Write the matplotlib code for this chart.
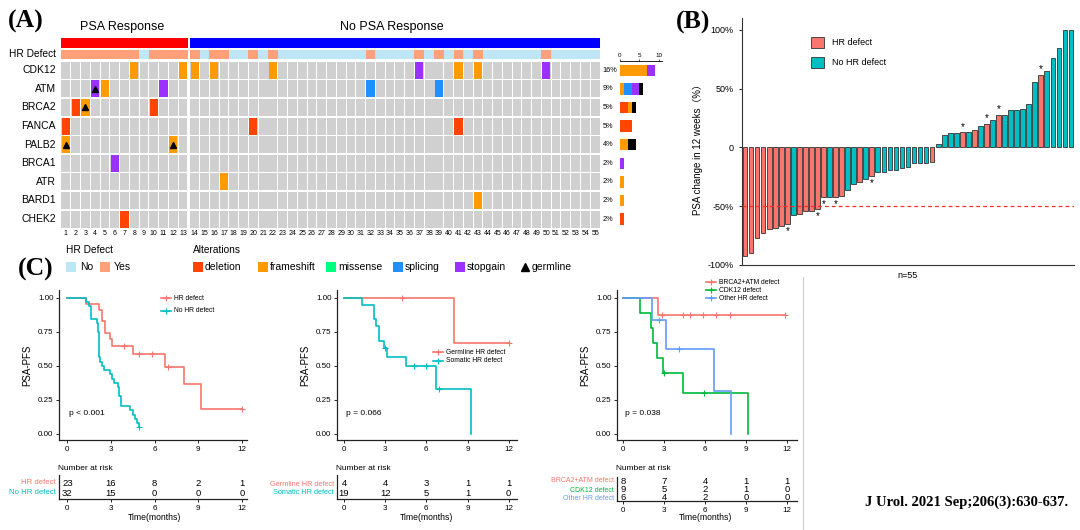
import numpy as np
import matplotlib
matplotlib.use('Agg')
import matplotlib.pyplot as plt
from matplotlib.patches import Rectangle

plt.rcParams['font.family'] = ['Liberation Sans', 'Noto Sans CJK SC']

W, H = 1080, 530

# ---------------- panel A: oncoprint ----------------
genes = ['CDK12', 'ATM', 'BRCA2', 'FANCA', 'PALB2', 'BRCA1', 'ATR', 'BARD1', 'CHEK2']
n_patients = 55
n_response = 13
hr_yes_cols = [1, 2, 3, 4, 5, 6, 7, 8, 10, 11, 12, 13, 14, 16, 17, 20, 22, 32, 37, 39, 41, 43, 50]
alterations = ['deletion', 'frameshift', 'missense', 'splicing', 'stopgain']
alt_colors = {'deletion': '#FF4500', 'frameshift': '#FF9A00', 'missense': '#00FF7F',
              'splicing': '#1E90FF', 'stopgain': '#9B30FF', 'germline': '#000000'}
# (gene, patient, alteration, germline)
mutations = [
    ('CDK12', 8, 'frameshift', 0), ('CDK12', 13, 'frameshift', 0), ('CDK12', 14, 'frameshift', 0),
    ('CDK12', 16, 'frameshift', 0), ('CDK12', 22, 'frameshift', 0), ('CDK12', 37, 'stopgain', 0),
    ('CDK12', 41, 'frameshift', 0), ('CDK12', 43, 'frameshift', 0), ('CDK12', 50, 'stopgain', 0),
    ('ATM', 4, 'stopgain', 1), ('ATM', 5, 'frameshift', 0), ('ATM', 11, 'stopgain', 0),
    ('ATM', 32, 'splicing', 0), ('ATM', 39, 'splicing', 0),
    ('BRCA2', 2, 'deletion', 0), ('BRCA2', 3, 'frameshift', 1), ('BRCA2', 10, 'deletion', 0),
    ('FANCA', 1, 'deletion', 0), ('FANCA', 20, 'deletion', 0), ('FANCA', 41, 'deletion', 0),
    ('PALB2', 1, 'frameshift', 1), ('PALB2', 12, 'frameshift', 1),
    ('BRCA1', 6, 'stopgain', 0),
    ('ATR', 17, 'frameshift', 0),
    ('BARD1', 43, 'frameshift', 0),
    ('CHEK2', 7, 'deletion', 0),
]

# ---------------- panel B: waterfall ----------------
psa_change = [-92, -89.5, -77, -73, -69, -68.5, -67, -65,
              -57.7, -57, -54, -54, -52, -42, -42, -42, -41,
              -36, -31, -29, -27, -24, -21, -21, -19.5, -19, -17.5, -17, -13.5, -13, -13, -12,
              3, 11, 12, 12, 13, 13, 15, 18, 20, 23, 28, 28, 32, 32, 33, 37, 56, 62, 65, 76, 85, 100, 100]
hr_defect_bar = [1, 1, 1, 1, 1, 1, 1, 1, 0, 1, 1, 1, 1, 1, 0, 1, 1, 0, 0, 1, 0, 1,
                 0, 0, 0, 0, 0, 0, 0, 0, 0, 1, 0, 0, 0, 0, 1, 0, 1, 0, 1, 0, 1,
                 0, 0, 0, 0, 0, 0, 1, 0, 0, 0, 0, 0]
star_bars = [8, 13, 14, 16, 22, 37, 41, 43, 50]

# ---------------- panel C: Kaplan-Meier ----------------
RED, TEAL, GREEN, BLUE = '#F8766D', '#00BFC4', '#00BA38', '#619CFF'
hr_t = [0, 1.3, 2.2, 2.35, 2.6, 2.95, 3.1, 4.5, 6.7, 8.0, 9.2, 12.0]
hr_s = [1.0, 0.957, 0.913, 0.826, 0.739, 0.696, 0.645, 0.587, 0.489, 0.367, 0.183, 0.183]
hr_cens = [3.9, 4.9, 5.8, 6.9, 12.0]
nohr_t = [0, 1.3, 1.5, 1.65, 2.05, 2.1, 2.15, 2.25, 2.4, 2.55, 2.95, 3.1, 3.2, 3.45, 3.55, 3.7,
          4.3, 4.5, 4.65, 4.8, 4.9, 4.95]
nohr_s = [1.0, 0.969, 0.938, 0.844, 0.813, 0.75, 0.563, 0.531, 0.5, 0.469, 0.438, 0.406, 0.375,
          0.344, 0.281, 0.203, 0.172, 0.141, 0.109, 0.078, 0.047, 0.047]
nohr_cens = [4.95]
germ_t = [0, 8.0, 12.0]
germ_s = [1.0, 0.667, 0.667]
germ_cens = [4.2, 12.0]
som_t = [0, 1.3, 2.2, 2.35, 2.55, 2.9, 3.1, 4.55, 6.7, 9.25]
som_s = [1.0, 0.947, 0.842, 0.789, 0.684, 0.632, 0.566, 0.497, 0.331, 0.0]
som_cens = [3.0, 5.1, 6.0, 6.95]
brca_t = [0, 2.55, 11.8]
brca_s = [1.0, 0.875, 0.875]
brca_cens = [2.85, 4.4, 4.9, 5.85, 6.8, 7.8, 11.8]
cdk_t = [0, 1.2, 2.05, 2.2, 2.5, 2.9, 4.4, 9.1]
cdk_s = [1.0, 0.889, 0.778, 0.667, 0.556, 0.444, 0.296, 0.0]
cdk_cens = [3.0, 5.9]
oth_t = [0, 2.1, 3.1, 6.6, 7.85]
oth_s = [1.0, 0.833, 0.625, 0.3125, 0.0]
oth_cens = [2.6, 4.1]
risk_times = [0, 3, 6, 9, 12]
risk_hr = [23, 16, 8, 2, 1]
risk_nohr = [32, 15, 0, 0, 0]
risk_germ = [4, 4, 3, 1, 1]
risk_som = [19, 12, 5, 1, 0]
risk_brca = [8, 7, 4, 1, 1]
risk_cdk = [9, 5, 2, 1, 0]
risk_oth = [6, 4, 2, 0, 0]


def box(x0, y0, x1, y1):
    return [x0 / W, 1 - y1 / H, (x1 - x0) / W, (y1 - y0) / H]


fig = plt.figure(figsize=(10.8, 5.3), dpi=100)
ov = fig.add_axes([0, 0, 1, 1], zorder=5)
ov.set_xlim(0, W)
ov.set_ylim(H, 0)
ov.axis('off')

# ---- oncoprint grid
ax = fig.add_axes(box(61, 36.8, 600, 228.4))
ax.set_xlim(0, 55.2)
ax.set_ylim(9, -1.3)
ax.axis('off')
col_x = [i + (0.2 if i >= n_response else 0) for i in range(n_patients)]
for i, x in enumerate(col_x):
    ax.add_patch(Rectangle((x, -1.24), 1, 0.54, fc='#FF0000' if i < n_response else '#0000FF', lw=0))
    ax.add_patch(Rectangle((x, -0.59), 1, 0.48, fc='#FFA07A' if (i + 1) in hr_yes_cols else '#BFE6F7', lw=0))
    for r in range(len(genes)):
        ax.add_patch(Rectangle((x + 0.05, r + 0.04), 0.9, 0.92, fc='#D0D0D0', lw=0))
    ax.text(x + 0.5, 9.27, str(i + 1), ha='center', va='center', fontsize=5, clip_on=False)

for g, p, a, germ in mutations:
    r = genes.index(g)
    x = col_x[p - 1]
    ax.add_patch(Rectangle((x + 0.08, r + 0.04), 0.84, 0.92, fc=alt_colors[a], lw=0))
    if germ:
        ax.plot(x + 0.5, r + 0.5, marker='^', color='black', ms=4.5, clip_on=False)

ax.text(-0.5, -0.35, 'HR Defect', ha='right', va='center', fontsize=7.3)
for r, g in enumerate(genes):
    ax.text(-0.5, r + 0.5, g, ha='right', va='center', fontsize=7.5)
    pts = set(m[1] for m in mutations if m[0] == g)
    ax.text(55.45, r + 0.5, f'{round(100 * len(pts) / n_patients)}%', ha='left', va='center', fontsize=5.3)

# ---- side bar of counts
axc = fig.add_axes(box(620, 61, 662, 228.4))
axc.set_xlim(0, 10.77)
axc.set_ylim(9, 0)
for r, g in enumerate(genes):
    left = 0
    for a in alterations + ['germline']:
        if a == 'germline':
            n = sum(1 for m in mutations if m[0] == g and m[3])
        else:
            n = sum(1 for m in mutations if m[0] == g and m[2] == a)
        if n:
            axc.barh(r + 0.5, n, left=left, height=0.62, color=alt_colors[a], lw=0)
            left += n
for s in ['left', 'right', 'bottom']:
    axc.spines[s].set_visible(False)
axc.spines['top'].set_linewidth(0.6)
axc.set_yticks([])
axc.xaxis.tick_top()
axc.set_xticks([0, 5, 10])
axc.tick_params(axis='x', labelsize=4.5, length=1.5, pad=0.8, width=0.5)
axc.patch.set_alpha(0)

# ---- panel A text and legend
ov.text(8, 21, '(A)', fontsize=18.5, fontweight='bold', family='Liberation Serif', va='center')
ov.text(80, 27, 'PSA Response', fontsize=9, va='center')
ov.text(340, 27, 'No PSA Response', fontsize=9, va='center')
ov.text(66, 250, 'HR Defect', fontsize=7.3, va='center')
ov.text(193, 250, 'Alterations', fontsize=7.3, va='center')
for x, lab, c in [(66, 'No', '#BFE6F7'), (100, 'Yes', '#FFA07A')]:
    ov.add_patch(Rectangle((x, 262), 10, 10, fc=c, lw=0))
    ov.text(x + 14, 267.5, lab, fontsize=7.5, va='center')
for x, a in zip([193, 258, 326, 393, 455], alterations):
    ov.add_patch(Rectangle((x, 262), 10, 10, fc=alt_colors[a], lw=0))
    ov.text(x + 12, 267.5, a, fontsize=7.5, va='center')
ov.plot(525, 267, marker='^', color='black', ms=6)
ov.text(532, 267.5, 'germline', fontsize=7.5, va='center')

# ---------------- panel B ----------------
axw = fig.add_axes(box(742, 18, 1074, 265))
xs = np.arange(1, len(psa_change) + 1)
cols = [RED if h else TEAL for h in hr_defect_bar]
axw.bar(xs, psa_change, width=0.78, color=cols, edgecolor='#333333', linewidth=0.6)
axw.axhline(-50, color='#FF2A2A', ls=(0, (3, 2.5)), lw=0.9)
for b in star_bars:
    v = psa_change[b - 1]
    if v < 0:
        axw.text(b, v - 2, '*', ha='center', va='top', fontsize=7)
    else:
        axw.text(b, v + 0.5, '*', ha='center', va='bottom', fontsize=7)
axw.set_xlim(0.5, 55.5)
axw.set_ylim(-100, 110.2)
axw.set_yticks([-100, -50, 0, 50, 100])
axw.set_yticklabels(['-100%', '-50%', '0', '50%', '100%'])
axw.set_xticks([])
axw.tick_params(axis='y', labelsize=6.5, length=2.5, width=0.6)
for s in ['top', 'right']:
    axw.spines[s].set_visible(False)
for s in ['left', 'bottom']:
    axw.spines[s].set_linewidth(0.8)
    axw.spines[s].set_color('#333333')
axw.set_xlabel('n=55', fontsize=6.5, labelpad=4)
axw.set_ylabel('PSA change in 12 weeks（%）', fontsize=7)
axw.yaxis.set_label_coords(-0.117, 0.478)

ov.text(676, 22, '(B)', fontsize=18.5, fontweight='bold', family='Liberation Serif', va='center')
for y, lab, c in [(37, 'HR defect', RED), (57, 'No HR defect', TEAL)]:
    ov.add_patch(Rectangle((811, y), 13, 11, fc=c, ec='#333333', lw=0.6))
    ov.text(832, y + 5.5, lab, fontsize=6.5, va='center')

# ---------------- panel C ----------------
ov.text(18, 269, '(C)', fontsize=18.5, fontweight='bold', family='Liberation Serif', va='center')


def km_panel(xa, xb, x0px, x12px, curves, p_text, row_px, risk_spine, leg_x, leg_y, lab_fs):
    ppm = (x12px - x0px) / 12
    xmin = -(x0px - xa) / ppm
    xmax = 12 + (xb - x12px) / ppm
    ax = fig.add_axes(box(xa, 290, xb, 440))
    ax.set_xlim(xmin, xmax)
    ax.set_ylim(-0.046, 1.057)
    for lab, t, s, cens, col, risk in curves:
        ax.step(t, s, where='post', color=col, lw=1.2)
        idx = np.searchsorted(t, cens, side='right') - 1
        ax.plot(cens, np.array(s)[idx], ls='none', marker='+', color=col, ms=4, mew=0.8)
    ax.set_xticks(risk_times)
    ax.set_yticks([0, 0.25, 0.5, 0.75, 1.0])
    ax.set_yticklabels(['0.00', '0.25', '0.50', '0.75', '1.00'])
    ax.tick_params(labelsize=5.8, length=2.5, width=0.6, pad=1.5)
    for sp in ['top', 'right']:
        ax.spines[sp].set_visible(False)
    for sp in ['left', 'bottom']:
        ax.spines[sp].set_linewidth(0.9)
        ax.spines[sp].set_color('#222222')
    ax.set_ylabel('PSA-PFS', fontsize=7)
    ax.text(0.12, 0.152, p_text, fontsize=6, va='center')
    # risk table
    axr = fig.add_axes(box(xa, risk_spine - 24, xb, risk_spine))
    axr.set_xlim(xmin, xmax)
    axr.set_ylim(0, 24)
    axr.set_yticks([])
    axr.set_xticks(risk_times)
    axr.tick_params(labelsize=5.8, length=2.5, width=0.6, pad=1.5)
    for sp in ['top', 'right']:
        axr.spines[sp].set_visible(False)
    for sp in ['left', 'bottom']:
        axr.spines[sp].set_linewidth(0.9)
        axr.spines[sp].set_color('#222222')
    axr.patch.set_alpha(0)
    for (lab, t, s, cens, col, risk), ry, ly in zip(curves, row_px, leg_y):
        for tt, n in zip(risk_times, risk):
            axr.text(tt, risk_spine - ry, str(n), ha='center', va='center', fontsize=6.8)
        ov.text(xa - 3, ry, lab, ha='right', va='center', fontsize=lab_fs, color=col)
        ov.plot([leg_x, leg_x + 10], [ly, ly], color=col, lw=1.2)
        ov.plot(leg_x + 5, ly, marker='+', color=col, ms=4, mew=0.8)
        ov.text(leg_x + 13, ly, lab, fontsize=4.9, va='center')
    ov.text(xa - 1, 468, 'Number at risk', fontsize=6, va='center')
    ov.text((x0px + x12px) / 2, 517, 'Time(months)', fontsize=6.2, ha='center', va='center')


km_panel(59, 247, 67.3, 242, [
    ('HR defect', hr_t, hr_s, hr_cens, RED, risk_hr),
    ('No HR defect', nohr_t, nohr_s, nohr_cens, TEAL, risk_nohr)],
    'p < 0.001', [483, 493], 499, 161, [298, 311], 5.6)
km_panel(337, 517, 344, 508.7, [
    ('Germline HR defect', germ_t, germ_s, germ_cens, RED, risk_germ),
    ('Somatic HR defect', som_t, som_s, som_cens, TEAL, risk_som)],
    'p = 0.066', [484, 493], 499, 433, [352, 361], 5.3)
km_panel(617, 797, 623.3, 787.3, [
    ('BRCA2+ATM defect', brca_t, brca_s, brca_cens, RED, risk_brca),
    ('CDK12 defect', cdk_t, cdk_s, cdk_cens, GREEN, risk_cdk),
    ('Other HR defect', oth_t, oth_s, oth_cens, BLUE, risk_oth)],
    'p = 0.038', [481, 490, 498], 501, 706, [282, 290, 298], 5.0)

ov.plot([803, 803], [277, 530], color='#CCCCCC', lw=0.8)
ov.text(865, 502, 'J Urol. 2021 Sep;206(3):630-637.', fontsize=10.5, fontweight='bold',
        family='Liberation Serif', va='center')

fig.savefig('out.png', dpi=100)
